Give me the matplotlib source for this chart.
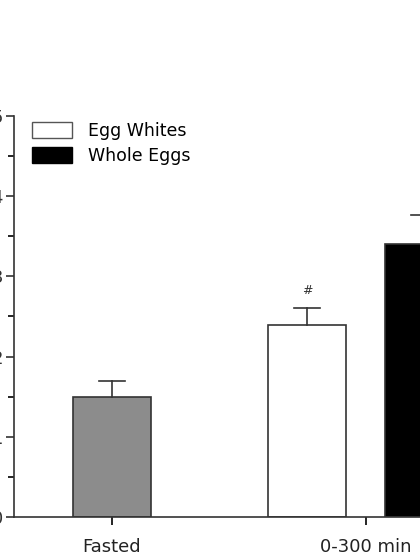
import matplotlib; matplotlib.use("Agg")
import matplotlib.pyplot as plt
from matplotlib.patches import Patch

labels = ["Fasted", "Egg Whites", "Whole Eggs"]
means = [1.5, 2.4, 3.4]
errs = [0.2, 0.2, 0.37]
colors = ["#8c8c8c", "white", "black"]
group_labels = ["Fasted", "0-300 min"]

# positions in pixel-like data units (axis spine at 0)
xpos = [98, 293, 410]
width = 78
group_ticks = [98, 352]

fig = plt.figure(figsize=(4.2, 5.6), dpi=100)
ax = fig.add_axes([14/420, 43/560, 686/420, 401/560])
ax.bar(xpos, means, width=width, color=colors, edgecolor="#333", lw=1.2, zorder=2)
for x, m, e in zip(xpos, means, errs):
    ax.plot([x, x], [m, m+e], color="#333", lw=1.2)
    ax.plot([x-13, x+13], [m+e, m+e], color="#333", lw=1.2)
ax.text(xpos[1], means[1]+errs[1]+0.22, "#", ha="center", va="center", fontsize=9, color="#333")
ax.text(xpos[2], means[2]+errs[2]+0.2, "#", ha="center", va="center", fontsize=9, color="#333")

ax.set_xlim(0, 686)
ax.set_ylim(0, 5)
ax.set_yticks(range(6))
ax.set_yticks([0.5, 1.5, 2.5, 3.5, 4.5], minor=True)
ax.set_xticks(group_ticks)
ax.set_xticklabels(group_labels, fontsize=13, color="#222")
ax.tick_params(axis="y", labelsize=13, length=6, width=1.2, colors="#333", pad=2)
ax.tick_params(axis="y", which="minor", length=4, width=1.2)
ax.tick_params(axis="x", length=6, width=1.2, pad=9)
for s in ["top", "right"]:
    ax.spines[s].set_visible(False)
for s in ["left", "bottom"]:
    ax.spines[s].set_linewidth(1.2)
    ax.spines[s].set_color("#333")

handles = [Patch(facecolor=colors[1], edgecolor="#555"), Patch(facecolor=colors[2], edgecolor="black")]
fig.legend(handles, labels[1:], loc="upper left", bbox_to_anchor=(0.06, 0.795), frameon=False,
           fontsize=12.5, handlelength=2.3, handleheight=1.0, labelspacing=0.4, handletextpad=0.9,
           borderaxespad=0)
fig.savefig("out.png", dpi=100)
